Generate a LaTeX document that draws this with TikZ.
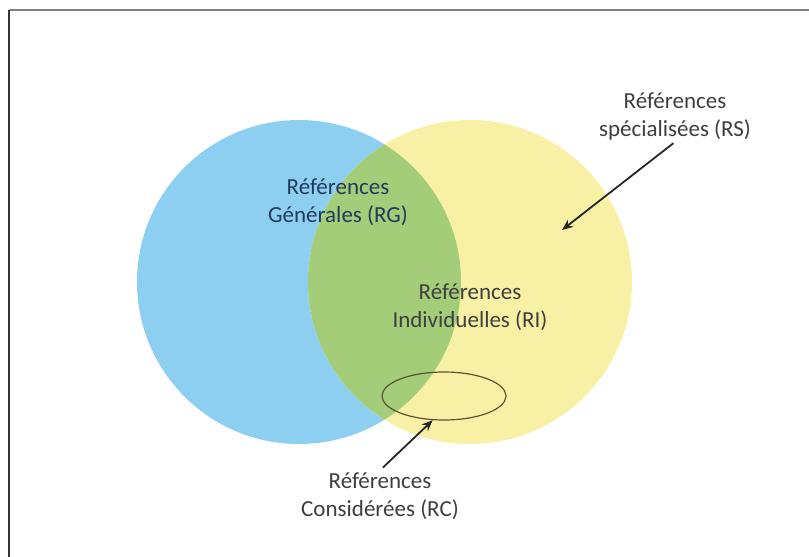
\documentclass[tikz,border=0pt]{standalone}
\usepackage{fontspec}
\setmainfont{Carlito}
\usetikzlibrary{shapes.geometric,arrows.meta}

\definecolor{rgblue}{RGB}{141,207,240}
\definecolor{rsyellow}{RGB}{248,241,165}
\definecolor{rigreen}{RGB}{164,205,122}
\definecolor{rcline}{RGB}{92,84,48}
\definecolor{txtgray}{RGB}{62,62,62}
\definecolor{rgtext}{RGB}{36,58,92}

\tikzset{
	lbl/.style = {align = center, font = \fontsize{23}{28}\selectfont, text = txtgray, inner sep = 2pt},
	arr/.style = {-{Stealth[length = 11pt, width = 9pt]}, line width = 1.8pt, draw = black!85},
}

\begin{document}
\begin{tikzpicture}[x = 1pt, y = -1pt]
	\useasboundingbox (0,0) rectangle (809,557);

	% frame
	\draw[line width = 1.5pt, gray] (9,10) -- (809,10);
	\draw[line width = 1.5pt, black!80] (9,10) -- (9,557);

	% the two sets
	\fill[rgblue] (299,282) circle (162pt);
	\fill[rsyellow] (470,282) circle (162pt);
	\begin{scope}
		\clip (299,282) circle (162pt);
		\fill[rigreen] (470,282) circle (162pt);
	\end{scope}

	\node[ellipse, draw = rcline, line width = 1.2pt, minimum width = 124pt, minimum height = 48pt, inner sep = 0pt](RCzone) at (444,396){};

	\node[lbl, text = rgtext](RG) at (338,202){Références\\Générales (RG)};		%RG
	\node[lbl](RI) at (470,307){Références\\Individuelles (RI)};			%RI
	\node[lbl](RS) at (675,116){Références\\spécialisées (RS)};			%RS
	\node[lbl](RC) at (380,496){Références\\Considérées (RC)};			%RC

	\coordinate (RSpt) at (562,230);
	\draw[arr, shorten <= 2pt] (RS.south) -- (RSpt);
	\draw[arr, shorten <= 4pt] (RC.north) -- (RCzone.245);
\end{tikzpicture}
\end{document}
